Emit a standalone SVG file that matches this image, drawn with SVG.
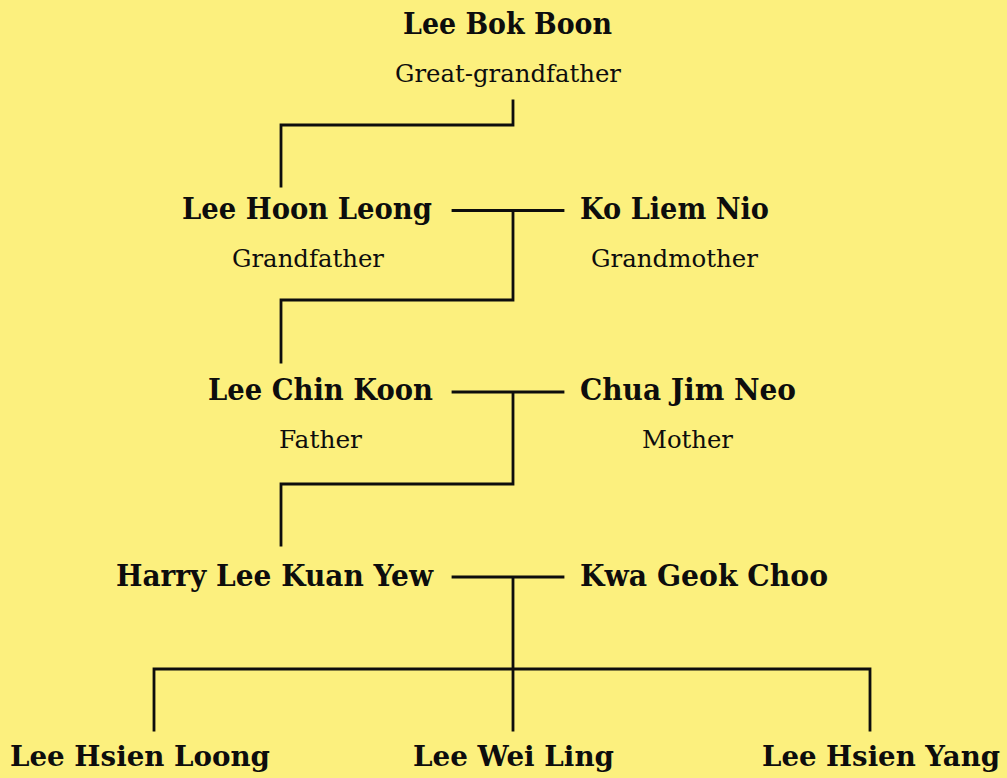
<svg xmlns="http://www.w3.org/2000/svg" width="1007" height="778" viewBox="0 0 1007 778">
<style>
.n{font-family:"DejaVu Serif","Liberation Serif",serif;font-weight:bold;font-size:29px;fill:#0d0d0d;}
.b{font-size:28px;}
.r{font-family:"DejaVu Serif","Liberation Serif",serif;font-size:24px;fill:#0d0d0d;}
.c{fill:none;stroke:#0d0d0d;stroke-width:2.8;stroke-linecap:square;}
</style>
<rect width="1007" height="778" fill="#fcf07e"/>
<g id="connectors" class="c">
<path d="M513 101V125H281V186"/>
<path d="M453 210.5H563M513 210.5V300H281V362"/>
<path d="M453 392H563M513 392V484H281V545"/>
<path d="M453 577H563M513 577V730M154 730V669H870V730"/>
</g>
<g id="lee-bok-boon"><text class="n" x="403" y="34" textLength="209" lengthAdjust="spacingAndGlyphs">Lee Bok Boon</text><text class="r" x="395" y="82" textLength="226" lengthAdjust="spacingAndGlyphs">Great-grandfather</text></g>
<g id="lee-hoon-leong"><text class="n" x="182" y="219" textLength="250" lengthAdjust="spacingAndGlyphs">Lee Hoon Leong</text><text class="r" x="232" y="267" textLength="152" lengthAdjust="spacingAndGlyphs">Grandfather</text></g>
<g id="ko-liem-nio"><text class="n" x="580" y="219" textLength="189" lengthAdjust="spacingAndGlyphs">Ko Liem Nio</text><text class="r" x="591" y="267" textLength="167" lengthAdjust="spacingAndGlyphs">Grandmother</text></g>
<g id="lee-chin-koon"><text class="n" x="208" y="400" textLength="225" lengthAdjust="spacingAndGlyphs">Lee Chin Koon</text><text class="r" x="279" y="448" textLength="83" lengthAdjust="spacingAndGlyphs">Father</text></g>
<g id="chua-jim-neo"><text class="n" x="580" y="400" textLength="216" lengthAdjust="spacingAndGlyphs">Chua Jim Neo</text><text class="r" x="642" y="448" textLength="91" lengthAdjust="spacingAndGlyphs">Mother</text></g>
<g id="harry-lee-kuan-yew"><text class="n" x="116" y="586" textLength="317" lengthAdjust="spacingAndGlyphs">Harry Lee Kuan Yew</text></g>
<g id="kwa-geok-choo"><text class="n" x="580" y="586" textLength="248" lengthAdjust="spacingAndGlyphs">Kwa Geok Choo</text></g>
<g id="lee-hsien-loong"><text class="n b" x="10" y="766" textLength="260" lengthAdjust="spacingAndGlyphs">Lee Hsien Loong</text></g>
<g id="lee-wei-ling"><text class="n b" x="413" y="766" textLength="201" lengthAdjust="spacingAndGlyphs">Lee Wei Ling</text></g>
<g id="lee-hsien-yang"><text class="n b" x="762" y="766" textLength="238" lengthAdjust="spacingAndGlyphs">Lee Hsien Yang</text></g>
</svg>
